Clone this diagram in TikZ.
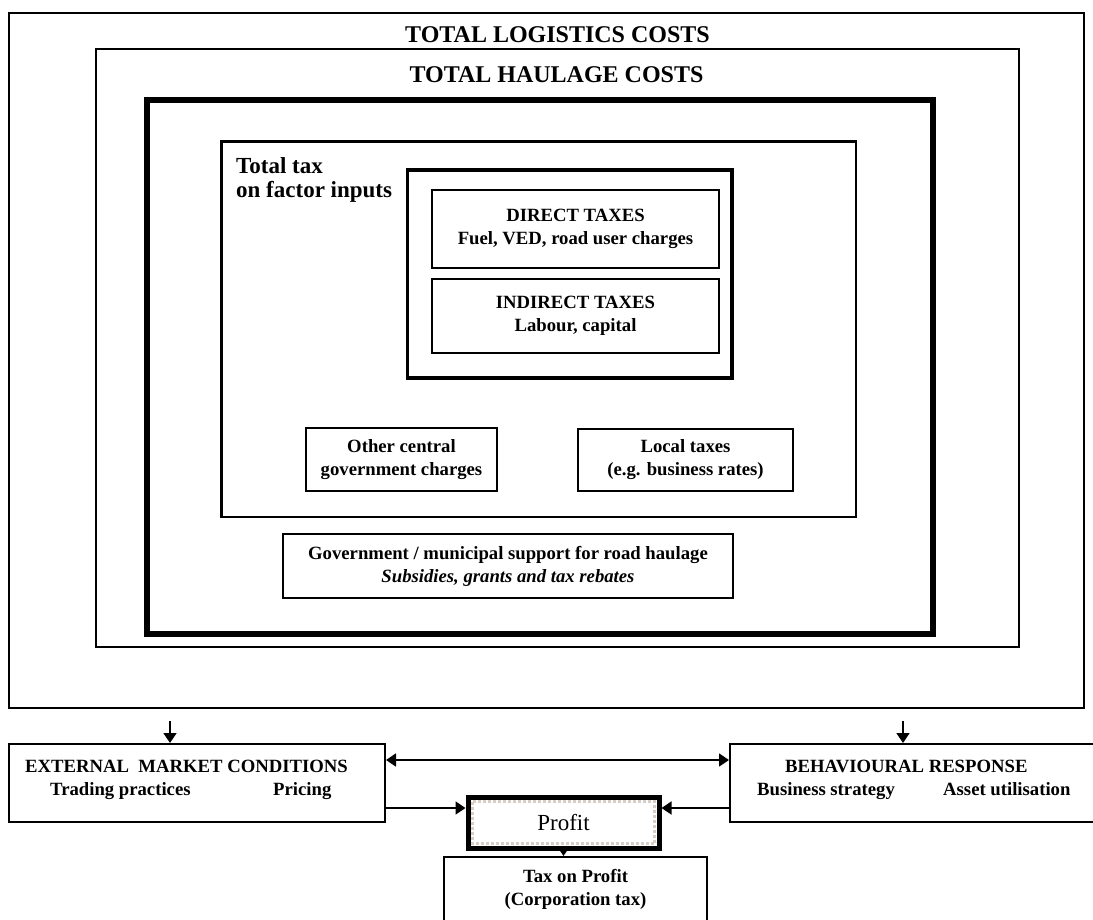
\documentclass[tikz,border=0pt]{standalone}
\usepackage{fontspec}
\setmainfont{Liberation Serif}
\usepackage{tikz}
\usetikzlibrary{arrows.meta,positioning,calc}
\definecolor{ink}{HTML}{000000}
\definecolor{dots}{HTML}{D8CEC6}
\newcommand{\bodyfont}{\fontsize{18.7}{23}\selectfont\bfseries}
\newcommand{\headfont}{\fontsize{24}{28}\selectfont\bfseries}
\tikzset{
  outerbox/.style={draw=ink, line width=2pt, inner sep=0pt},
  heavybox/.style={outerbox, line width=6pt},
  taxbox/.style={outerbox, line width=2.5pt},
  innerbox/.style={outerbox, line width=3.5pt},
  cell/.style={draw=ink, line width=2pt, inner sep=0pt, align=center,
               font=\bodyfont},
  head/.style={font=\headfont, inner sep=0pt},
  lbl/.style={font=\bodyfont, inner sep=0pt},
  ar/.style={-{Triangle[length=10pt,width=13pt]}, line width=1.6pt, draw=ink},
  dar/.style={{Triangle[length=10pt,width=13pt]}-{Triangle[length=10pt,width=13pt]},
              line width=1.6pt, draw=ink},
}

\begin{document}
\begin{tikzpicture}[x=1pt, y=-1pt]
  \clip (0,0) rectangle (1093,919);

  % nested cost frames
  \node[outerbox, minimum width=1075pt, minimum height=695pt] (logi) at (546.5,360.5) {};
  \node[outerbox, minimum width=923pt, minimum height=598pt] (haul) at (557.5,348) {};
  \node[heavybox, minimum width=786pt, minimum height=534pt] (core) at (540,367) {};
  \node[taxbox, minimum width=634.5pt, minimum height=375.5pt] (ttax) at (538.75,329.25) {};
  \node[innerbox, minimum width=324.5pt, minimum height=208pt] (facin) at (569.75,274) {};

  \node[head, anchor=base] (tlog) at (557.5,42) {TOTAL LOGISTICS COSTS};
  \node[head, anchor=base] (thaul) at (556.5,82) {TOTAL HAULAGE COSTS};
  \node[font=\fontsize{23}{24}\selectfont\bfseries, inner sep=0pt, align=left,
        anchor=north west] (tfac) at (236,157) {Total tax\\on factor inputs};

  \node[cell, minimum width=287pt, minimum height=78pt] (dir) at (575.5,229)
       {DIRECT TAXES\\Fuel, VED, road user charges};
  \node[cell, minimum width=287pt, minimum height=74pt] (indir) at (575.5,316)
       {INDIRECT TAXES\\Labour, capital};
  \node[cell, minimum width=191pt, minimum height=63pt] (oth) at (401.5,459.5)
       {Other central\\government charges};
  \node[cell, minimum width=215pt, minimum height=62pt] (loc) at (685.5,460)
       {Local taxes\\(e.g. business rates)};
  \node[cell, minimum width=450pt, minimum height=64pt] (gov) at (508,566)
       {Government / municipal support for road haulage\\
        \itshape Subsidies, grants and tax rebates};

  % lower row
  \node[cell, minimum width=376pt, minimum height=78pt] (ext) at (197,783) {};
  \node[cell, minimum width=370pt, minimum height=78pt] (beh) at (915,783) {};
  \node[lbl, anchor=base west] (extt) at (25,772) {EXTERNAL\ \ MARKET CONDITIONS};
  \node[lbl, anchor=base west] (trad) at (50,795) {Trading practices};
  \node[lbl, anchor=base west] (pric) at (273,795) {Pricing};
  \node[lbl, anchor=base west] (beht) at (785,772) {BEHAVIOURAL RESPONSE};
  \node[lbl, anchor=base west] (bus) at (757,795) {Business strategy};
  \node[lbl, anchor=base west] (asset) at (943,795) {Asset utilisation};

  \node[draw=ink, line width=5pt, fill=white, inner sep=0pt,
        minimum width=191pt, minimum height=51pt,
        font=\fontsize{23}{26}\selectfont] (prof) at (563.5,822.5) {Profit};
  \draw[dots, dotted, line width=3pt]
       ($(prof.north west)+(7,7)$) rectangle ($(prof.south east)+(-7,-7)$);
  \node[cell, minimum width=263pt, minimum height=64pt] (tax) at (575.5,889)
       {Tax on Profit\\(Corporation tax)};

  \coordinate (d1) at (170,721);
  \coordinate (d2) at (903,721);
  \coordinate (r1) at (0,760);
  \coordinate (r2) at (0,808);
  \draw[ar] (d1) -- (d1 |- ext.north);
  \draw[ar] (d2) -- (d2 |- beh.north);
  \draw[dar] (ext.east |- r1) -- (beh.west |- r1);
  \draw[ar] (ext.east |- r2) -- (prof.west |- r2);
  \draw[ar] (beh.west |- r2) -- (prof.east |- r2);
  \draw[ar] (prof.south) -- (prof.south |- tax.north);
\end{tikzpicture}
\end{document}
